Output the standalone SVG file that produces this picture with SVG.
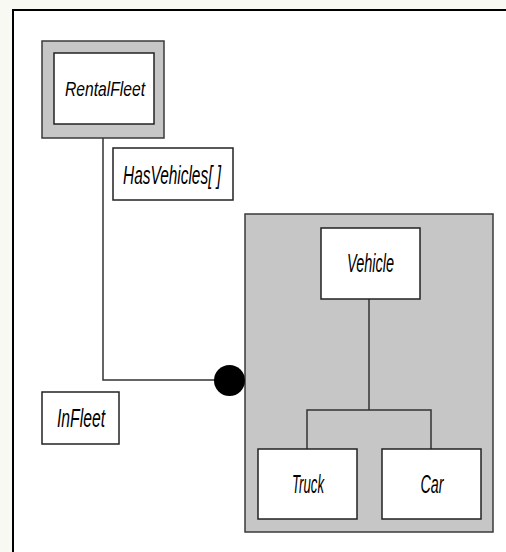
<svg xmlns="http://www.w3.org/2000/svg" width="506" height="552" viewBox="0 0 506 552">
  <style>
    .box { fill: #ffffff; stroke: #222222; stroke-width: 1.5; }
    .shade { fill: #c6c6c6; stroke: #3a3a3a; stroke-width: 1.5; }
    .lbl { font-family: "Liberation Sans", "DejaVu Sans", sans-serif; font-style: italic; font-size: 25px; fill: #000000; text-anchor: middle; }
    .small { font-size: 21px; }
    .wire { fill: none; stroke: #333333; stroke-width: 1.5; }
  </style>
  <!-- page background and frame -->
  <rect x="0" y="0" width="506" height="552" fill="#f9f9f4"/>
  <rect x="13" y="10" width="500" height="550" fill="#ffffff"/>
  <path d="M13 552 V10 H506" fill="none" stroke="#000000" stroke-width="2"/>

  <g id="vehicle-group">
    <rect class="shade" x="245" y="214" width="248" height="318"/>
  </g>

  <g id="connectors">
    <path class="wire" d="M103 138 V380 H229"/>
    <path class="wire" d="M369 299 V410"/>
    <path class="wire" d="M307 449 V410 H431 V449"/>
    <circle cx="229.5" cy="380.5" r="15.5" fill="#000000"/>
  </g>

  <g id="rentalfleet">
    <rect class="shade" x="42" y="41" width="122" height="97"/>
    <rect class="box" x="54" y="53" width="100" height="71"/>
    <text class="lbl small" x="105" y="96" textLength="80" lengthAdjust="spacingAndGlyphs">RentalFleet</text>
  </g>

  <g id="hasvehicles">
    <rect class="box" x="113" y="148" width="120" height="52"/>
    <text class="lbl" x="172" y="184" textLength="98" lengthAdjust="spacingAndGlyphs">HasVehicles[ ]</text>
  </g>

  <g id="infleet">
    <rect class="box" x="42" y="392" width="77" height="52"/>
    <text class="lbl" x="81" y="427" textLength="48" lengthAdjust="spacingAndGlyphs">InFleet</text>
  </g>

  <g id="vehicle">
    <rect class="box" x="321" y="228" width="99" height="71"/>
    <text class="lbl" x="370.5" y="272" textLength="47" lengthAdjust="spacingAndGlyphs">Vehicle</text>
  </g>

  <g id="truck">
    <rect class="box" x="258" y="449" width="99" height="70"/>
    <text class="lbl" x="308" y="493" textLength="32" lengthAdjust="spacingAndGlyphs">Truck</text>
  </g>

  <g id="car">
    <rect class="box" x="382" y="449" width="99" height="70"/>
    <text class="lbl" x="432" y="493" textLength="23" lengthAdjust="spacingAndGlyphs">Car</text>
  </g>
</svg>
